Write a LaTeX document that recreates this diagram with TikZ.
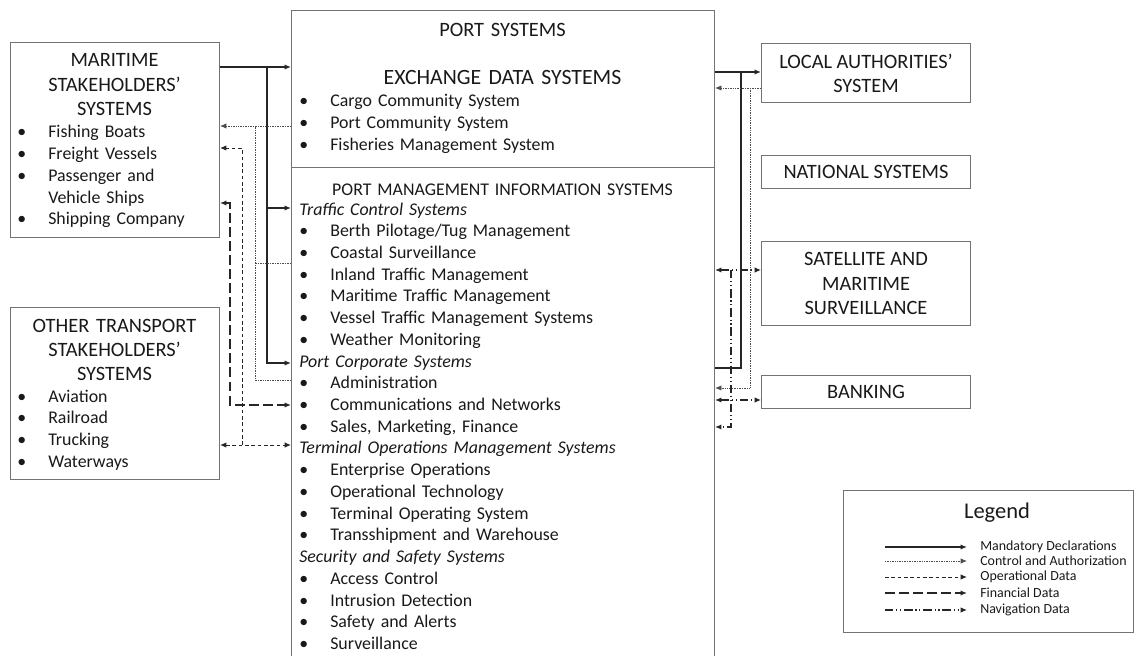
\documentclass[tikz,border=0pt]{standalone}
\usepackage{fontspec}
\setmainfont{Carlito}
\usetikzlibrary{arrows.meta, positioning}

\newcommand{\bul}{\makebox[0.775cm][l]{\textbullet}}
\newcommand{\nobul}{\makebox[0.775cm][l]{}}

\begin{document}
\begin{tikzpicture}[
    x=0.025cm, y=-0.025cm,
    >={Latex[length=4.5pt,width=3.8pt]},
    node distance=1.3cm,
    sysbox/.style={
        rectangle, draw=black!55, line width=0.7pt,
        inner sep=0pt, align=center, text=black!90,
        font=\fontsize{14.5}{17.2}\selectfont
    },
    boxtitle/.style={inner sep=0pt, text width=8cm, align=center,
        text=black!90, font=\fontsize{14.5}{17.2}\selectfont},
    itemlist/.style={inner sep=0pt, text width=9cm, align=left,
        text=black!90, font=\fontsize{12.7}{15.45}\selectfont},
    legtext/.style={anchor=west, inner ysep=0pt, inner xsep=0.325cm,
        text=black!90, font=\fontsize{9.9}{12}\selectfont},
    mand/.style={line width=1.1pt, draw=black!85, ->},
    ctrl/.style={line width=0.6pt, draw=black!70, dash pattern=on 0.6pt off 0.6pt, ->},
    oper/.style={line width=0.7pt, draw=black!85, dash pattern=on 2.6pt off 1.9pt, ->},
    fin/.style={line width=1.1pt, draw=black!85, dash pattern=on 7pt off 3pt, ->},
    nav/.style={line width=0.8pt, draw=black!85,
        dash pattern=on 6pt off 2pt on 0.8pt off 2pt on 0.8pt off 2pt, ->},
]

\useasboundingbox (0,0) rectangle (1142,656);
\clip (0,0) rectangle (1142,656);

% Boxes
\node[sysbox, anchor=north west, minimum width=10.575cm, minimum height=17.25cm] (port) at (291,10) {};

\node[sysbox, anchor=north west, minimum width=5.225cm, minimum height=4.875cm] (maritime) at (10,42) {};
\node[sysbox, below=1.725cm of maritime, minimum width=5.225cm, minimum height=4.3cm] (other) {};

\node[sysbox, anchor=north west, minimum width=5.225cm, minimum height=1.475cm] (localauth) at (761,43) {LOCAL AUTHORITIES'\\SYSTEM};
\node[sysbox, below=of localauth, minimum width=5.225cm, minimum height=0.825cm] (national) {NATIONAL SYSTEMS};
\node[sysbox, below=of national, minimum width=5.225cm, minimum height=2.1cm] (satellite) {SATELLITE AND\\MARITIME\\SURVEILLANCE};
\node[sysbox, below=1.225cm of satellite, minimum width=5.225cm, minimum height=0.825cm] (banking) {BANKING};

% Texts of the left boxes
\node[boxtitle, anchor=base] (maritime-title) at (114.5,67) {MARITIME\\STAKEHOLDERS'\\SYSTEMS};
\node[itemlist, anchor=base west] (maritime-items) at (17,138) {\bul Fishing Boats\\\bul Freight Vessels\\\bul Passenger and\\\nobul Vehicle Ships\\\bul Shipping Company};

\node[boxtitle, anchor=base] (other-title) at (114.5,332) {OTHER TRANSPORT\\STAKEHOLDERS'\\SYSTEMS};
\node[itemlist, anchor=base west] (other-items) at (17,402) {\bul Aviation\\\bul Railroad\\\bul Trucking\\\bul Waterways};

% Texts of the port box
\node[boxtitle, anchor=base] (port-title) at (502.5,37) {PORT SYSTEMS};
\node[boxtitle, anchor=base, font=\fontsize{15.5}{18}\selectfont] (eds-title) at (502.5,85) {EXCHANGE DATA SYSTEMS};
\node[itemlist, anchor=base west] (eds-items) at (299,107) {\bul Cargo Community System\\\bul Port Community System\\\bul Fisheries Management System};

\coordinate (ydiv) at (0,167);
\draw[draw=black!55, line width=0.7pt] (port.west |- ydiv) -- (port.east |- ydiv);

\node[itemlist, anchor=base, align=center] (pmis-title) at (502.5,195) {PORT MANAGEMENT INFORMATION SYSTEMS};
\node[itemlist, anchor=base west] (pmis-items) at (299,215) {%
\textit{Traffic Control Systems}\\
\bul Berth Pilotage/Tug Management\\
\bul Coastal Surveillance\\
\bul Inland Traffic Management\\
\bul Maritime Traffic Management\\
\bul Vessel Traffic Management Systems\\
\bul Weather Monitoring\\
\textit{Port Corporate Systems}\\
\bul Administration\\
\bul Communications and Networks\\
\bul Sales, Marketing, Finance\\
\textit{Terminal Operations Management Systems}\\
\bul Enterprise Operations\\
\bul Operational Technology\\
\bul Terminal Operating System\\
\bul Transshipment and Warehouse\\
\textit{Security and Safety Systems}\\
\bul Access Control\\
\bul Intrusion Detection\\
\bul Safety and Alerts\\
\bul Surveillance};

% Levels of the connectors
\coordinate (xmd) at (267,0);
\coordinate (xca) at (255,0);
\coordinate (xop) at (242,0);
\coordinate (xfin) at (230,0);
\coordinate (ymd) at (0,67);
\coordinate (yca) at (0,126);
\coordinate (yop) at (0,148);
\coordinate (yfin) at (0,203);
\coordinate (ytcs) at (0,208);
\coordinate (ycoast) at (0,263);
\coordinate (ypcs) at (0,363);
\coordinate (yadm) at (0,380);
\coordinate (ycomm) at (0,405);
\coordinate (ytom) at (0,445);

\coordinate (xnav) at (731,0);
\coordinate (xmr) at (741,0);
\coordinate (xcr) at (750,0);
\coordinate (yla1) at (0,72);
\coordinate (yla2) at (0,88);
\coordinate (ysat) at (0,270);
\coordinate (ycorp) at (0,368);
\coordinate (ybk1) at (0,388);
\coordinate (ybk2) at (0,400);
\coordinate (ynav) at (0,427);

% Left connectors
\draw[mand] (maritime.east |- ymd) -- (port.west |- ymd);
\draw[mand] (xmd |- ymd) |- (port.west |- ypcs);
\draw[mand] (xmd |- ytcs) -- (port.west |- ytcs);

\draw[ctrl] (port.west |- yca) -- (maritime.east |- yca);
\draw[ctrl, -] (port.west |- yadm) -| (xca |- yca);
\draw[ctrl, -] (port.west |- ycoast) -- (xca |- ycoast);

\draw[oper, <->] (other.east |- ytom) -- (port.west |- ytom);
\draw[oper] (xop |- ytom) |- (maritime.east |- yop);

\draw[fin, <->] (maritime.east |- yfin) -| (xfin |- ycomm) -- (port.west |- ycomm);

% Right connectors
\draw[mand] (port.east |- yla1) -- (localauth.west |- yla1);
\draw[mand, -] (port.east |- ycorp) -| (xmr |- yla1);

\draw[ctrl] (localauth.west |- yla2) -- (port.east |- yla2);
\draw[ctrl] (xcr |- yla2) |- (port.east |- ybk1);

\draw[nav, <->] (port.east |- ysat) -- (satellite.west |- ysat);
\draw[nav] (xnav |- ysat) |- (port.east |- ynav);
\draw[nav, <->] (port.east |- ybk2) -- (banking.west |- ybk2);

% Legend
\node[sysbox, anchor=north west, minimum width=7.25cm, minimum height=3.55cm] (legend) at (843,490) {};
\node[anchor=base, inner sep=0pt, text=black!90, font=\fontsize{16}{19}\selectfont] (legend-title) at (997,518) {Legend};

\node[legtext] (leg-md) at (967,547) {Mandatory Declarations};
\node[legtext] (leg-ca) at (967,561) {Control and Authorization};
\node[legtext] (leg-op) at (967,577) {Operational Data};
\node[legtext] (leg-fin) at (967,593) {Financial Data};
\node[legtext] (leg-nav) at (967,610) {Navigation Data};
\coordinate (leg-md-s) at (885,547);
\coordinate (leg-ca-s) at (885,561);
\coordinate (leg-op-s) at (885,577);
\coordinate (leg-fin-s) at (885,593);
\coordinate (leg-nav-s) at (885,610);
\draw[mand] (leg-md-s) -- (leg-md.west);
\draw[ctrl] (leg-ca-s) -- (leg-ca.west);
\draw[oper] (leg-op-s) -- (leg-op.west);
\draw[fin] (leg-fin-s) -- (leg-fin.west);
\draw[nav] (leg-nav-s) -- (leg-nav.west);

\end{tikzpicture}
\end{document}
